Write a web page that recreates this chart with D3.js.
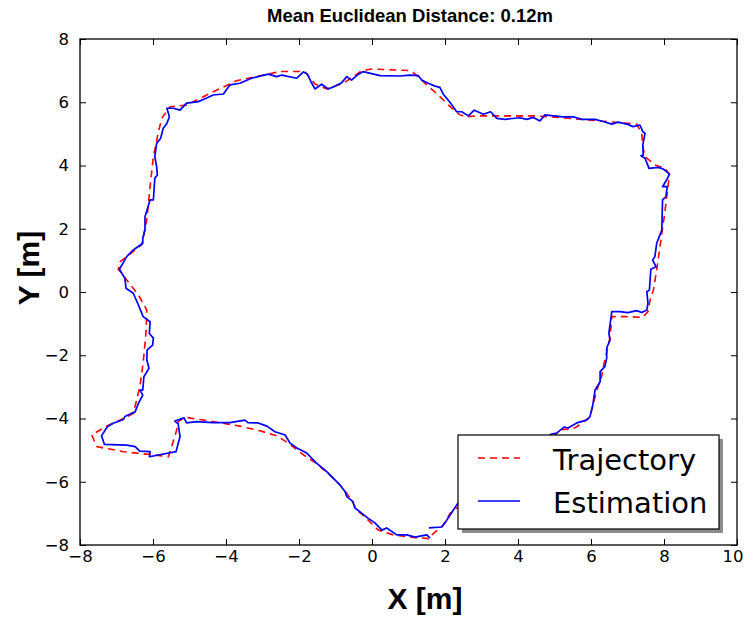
<!DOCTYPE html>
<html>
<head>
<meta charset="utf-8">
<script src="https://cdn.jsdelivr.net/npm/d3@7"></script>
<style>
  body { margin: 0; background: #fff; }
  svg { display: block; }
  .tick text { font-family: "DejaVu Sans", sans-serif; font-size: 16.5px; fill: #000; }
</style>
</head>
<body>
<svg width="744" height="617"></svg>
<script>
/* ground truth path (red dashed) */
var trajX = [1.64, 1.95, 2.14, 5.01, 5.24, 5.47, 5.61, 5.97, 6.16, 6.29, 6.33, 6.52, 6.57, 6.98, 7.42, 7.56, 7.62, 7.71, 7.80, 7.89,
  7.98, 8.03, 8.15, 8.03, 7.75, 7.48, 7.42, 7.39, 7.25, 4.88, 4.42, 3.51, 2.87, 2.59, 2.41, 2.14, 1.86, 1.50, 1.22, 1.04,
  0.68, -0.01, -0.28, -0.51, -0.79, -1.24, -1.42, -1.56, -1.70, -1.84, -2.52, -2.98, -3.71, -4.44, -5.08, -5.53, -5.76, -5.85, -5.99, -6.08,
  -6.17, -6.31, -6.90, -6.95, -6.58, -6.40, -6.17, -6.19, -6.27, -6.36, -6.54, -6.90, -7.22, -7.68, -7.54, -6.81, -5.99, -5.58, -5.49, -5.35,
  -5.31, -5.12, -4.62, -3.98, -3.62, -3.07, -2.61, -2.29, -1.88, -1.52, -1.06, -0.79, -0.56, -0.42, -0.15, 0.17, 0.58, 1.13, 1.50, 1.59];
var trajY = [-7.68, -7.37, -7.00, -4.52, -4.34, -4.34, -4.26, -3.95, -3.10, -2.68, -2.40, -1.45, -0.78, -0.78, -0.80, -0.62, -0.25, 0.06, 0.70, 1.43,
  2.17, 2.59, 3.73, 3.91, 4.02, 4.28, 4.59, 5.02, 5.31, 5.54, 5.57, 5.57, 5.57, 5.54, 5.60, 5.86, 6.18, 6.55, 6.86, 7.00,
  7.02, 7.05, 7.00, 6.81, 6.60, 6.42, 6.51, 6.58, 6.76, 6.97, 6.97, 6.86, 6.68, 6.28, 5.91, 5.86, 5.49, 5.07, 4.28, 3.33,
  2.28, 1.49, 0.96, 0.72, 0.17, -0.09, -0.57, -1.26, -2.25, -2.99, -3.84, -4.05, -4.21, -4.52, -4.89, -5.05, -5.15, -5.21, -4.89, -4.36,
  -4.10, -3.96, -4.05, -4.17, -4.24, -4.39, -4.55, -4.78, -5.15, -5.42, -5.89, -6.21, -6.58, -6.89, -7.16, -7.53, -7.68, -7.76, -7.79, -7.84];

/* estimated path (blue) */
var estX = [1.56, 1.91, 2.00, 2.14, 2.36, 4.92, 5.06, 5.26, 5.37, 5.61, 5.88, 5.97, 6.05, 6.11, 6.25, 6.25, 6.38, 6.43, 6.43, 6.52,
  6.49, 6.57, 6.79, 7.01, 7.25, 7.39, 7.53, 7.56, 7.53, 7.60, 7.64, 7.78, 7.69, 7.75, 7.80, 7.87, 7.94, 7.96, 8.05, 8.09,
  7.96, 8.07, 8.15, 7.98, 7.84, 7.59, 7.48, 7.37, 7.43, 7.42, 7.48, 7.42, 7.34, 7.15, 6.98, 6.74, 6.57, 6.33, 6.11, 5.75,
  5.51, 5.23, 4.74, 4.60, 4.42, 4.24, 4.05, 3.64, 3.42, 3.25, 3.05, 2.80, 2.64, 2.46, 2.32, 2.14, 1.95, 1.86, 1.73, 1.54,
  1.36, 1.27, 1.04, 0.77, 0.22, -0.24, -0.38, -0.56, -0.69, -0.83, -1.01, -1.20, -1.38, -1.56, -1.65, -1.77, -1.88, -2.06, -2.47, -2.61,
  -2.84, -3.30, -3.62, -3.89, -4.07, -4.35, -4.62, -4.76, -5.08, -5.26, -5.44, -5.62, -5.55, -5.62, -5.72, -5.79, -5.90, -5.95, -5.90, -5.88,
  -5.95, -5.99, -6.08, -6.11, -6.22, -6.22, -6.28, -6.28, -6.54, -6.72, -6.92, -6.77, -6.74, -6.54, -6.40, -6.27, -6.08, -6.10, -5.99, -6.01,
  -6.16, -6.17, -6.11, -6.25, -6.28, -6.36, -6.28, -6.40, -6.49, -6.63, -6.77, -6.81, -7.09, -7.25, -7.41, -7.33, -6.72, -6.49, -6.36, -6.08,
  -6.10, -5.37, -5.26, -5.31, -5.40, -5.15, -5.08, -4.80, -4.36, -3.89, -3.48, -3.40, -3.12, -2.88, -2.66, -2.38, -2.25, -2.06, -1.79, -1.52,
  -1.24, -0.88, -0.74, -0.69, -0.52, -0.47, -0.33, -0.11, 0.08, 0.27, 0.40, 0.68, 0.95, 1.18, 1.50, 1.59];
var estY = [-7.46, -7.43, -7.30, -7.05, -6.67, -4.49, -4.46, -4.27, -4.30, -4.14, -4.05, -3.95, -3.57, -3.10, -2.84, -2.52, -2.36, -2.09, -1.77, -1.52,
  -1.30, -0.62, -0.62, -0.65, -0.59, -0.65, -0.57, -0.35, 0.01, 0.06, 0.72, 0.80, 1.01, 1.12, 1.54, 1.75, 1.96, 2.91, 3.01, 3.33,
  3.33, 3.54, 3.73, 3.89, 3.94, 3.91, 4.23, 4.31, 4.33, 4.65, 5.02, 5.07, 5.28, 5.23, 5.31, 5.37, 5.31, 5.39, 5.46, 5.46,
  5.54, 5.54, 5.60, 5.41, 5.52, 5.46, 5.51, 5.46, 5.49, 5.70, 5.62, 5.75, 5.57, 5.70, 5.70, 5.99, 6.26, 6.47, 6.51, 6.60,
  6.70, 6.84, 6.86, 6.83, 6.84, 6.97, 6.88, 6.70, 6.81, 6.62, 6.51, 6.42, 6.57, 6.42, 6.60, 6.89, 6.96, 6.76, 6.86, 6.81,
  6.89, 6.76, 6.60, 6.55, 6.26, 6.23, 6.09, 6.02, 5.97, 5.75, 5.81, 5.81, 5.54, 5.33, 5.18, 4.86, 4.70, 4.28, 3.96, 3.70,
  3.60, 2.91, 2.91, 2.80, 2.38, 1.96, 1.70, 1.54, 1.33, 1.12, 0.72, 0.43, 0.12, -0.04, -0.41, -0.78, -0.94, -1.31, -1.46, -1.68,
  -1.83, -2.15, -2.41, -2.68, -3.10, -3.10, -3.26, -3.52, -3.79, -3.86, -3.94, -4.03, -4.15, -4.26, -4.55, -4.82, -4.84, -4.89, -5.03, -5.05,
  -5.21, -5.05, -4.58, -4.17, -4.08, -3.98, -4.14, -4.10, -4.13, -4.13, -4.05, -4.13, -4.14, -4.24, -4.42, -4.52, -4.77, -4.93, -5.09, -5.41,
  -5.68, -6.10, -6.31, -6.47, -6.63, -6.83, -6.95, -7.15, -7.30, -7.53, -7.46, -7.68, -7.68, -7.75, -7.68, -7.78];

var xTicks = [-8, -6, -4, -2, 0, 2, 4, 6, 8, 10];
var yTicks = [-8, -6, -4, -2, 0, 2, 4, 6, 8];
var seriesNames = ["Trajectory", "Estimation"];
var titleText = "Mean Euclidean Distance: 0.12m";

var svg = d3.select("svg"),
    margin = {top: 39, right: 7, bottom: 72, left: 80},
    width = +svg.attr("width") - margin.left - margin.right,
    height = +svg.attr("height") - margin.top - margin.bottom,
    g = svg.append("g").attr("transform", "translate(" + margin.left + "," + margin.top + ")");

var x = d3.scaleLinear().domain([-8, 10]).range([0, width]);
var y = d3.scaleLinear().domain([-8, 8]).range([height, 0]);

var fmt = function(d) { return d < 0 ? "\u2212" + Math.abs(d) : "" + d; };

/* clip so the lines stay inside the frame */
svg.append("defs").append("clipPath").attr("id", "clip")
  .append("rect").attr("width", width).attr("height", height);

var line = d3.line()
    .x(function(d) { return x(d[0]); })
    .y(function(d) { return y(d[1]); });

var traj = trajX.map(function(v, i) { return [v, trajY[i]]; });
var est = estX.map(function(v, i) { return [v, estY[i]]; });

var plot = g.append("g").attr("clip-path", "url(#clip)");

plot.append("path")
    .datum(traj)
    .attr("fill", "none")
    .attr("stroke", "#ff0000")
    .attr("stroke-width", 1.6)
    .attr("stroke-dasharray", "7,5")
    .attr("d", line);

plot.append("path")
    .datum(est)
    .attr("fill", "none")
    .attr("stroke", "#0000ff")
    .attr("stroke-width", 1.7)
    .attr("stroke-linejoin", "round")
    .attr("d", line);

/* axes: ticks inward, on all four sides */
var axB = g.append("g").attr("transform", "translate(0," + height + ")")
    .call(d3.axisBottom(x).tickValues(xTicks).tickSizeInner(-6).tickSizeOuter(0).tickPadding(5).tickFormat(fmt));
var axL = g.append("g")
    .call(d3.axisLeft(y).tickValues(yTicks).tickSizeInner(-6).tickSizeOuter(0).tickPadding(11).tickFormat(fmt));
var axT = g.append("g")
    .call(d3.axisTop(x).tickValues(xTicks).tickSizeInner(-6).tickSizeOuter(0).tickFormat(""));
var axR = g.append("g").attr("transform", "translate(" + width + ",0)")
    .call(d3.axisRight(y).tickValues(yTicks).tickSizeInner(-6).tickSizeOuter(0).tickFormat(""));

[axB, axL, axT, axR].forEach(function(a) {
  a.select(".domain").remove();
  a.selectAll(".tick line").attr("stroke", "#000").attr("stroke-width", 1);
});
axB.selectAll(".tick text").attr("dy", "0.71em");
// last label sits on the page edge, keep it inside
axB.selectAll(".tick text").filter(function(d) { return d === 10; })
    .attr("text-anchor", "end").attr("x", 6);

g.append("rect")
    .attr("width", width)
    .attr("height", height)
    .attr("fill", "none")
    .attr("stroke", "#000")
    .attr("stroke-width", 1.3);

/* title and axis labels */
svg.append("text")
    .attr("x", 410)
    .attr("y", 22)
    .attr("text-anchor", "middle")
    .style("font-family", "'Liberation Sans', Arial, sans-serif")
    .style("font-weight", "bold")
    .style("font-size", "18.5px")
    .text(titleText);

svg.append("text")
    .attr("x", 425)
    .attr("y", 609)
    .attr("text-anchor", "middle")
    .style("font-family", "'Liberation Sans', Arial, sans-serif")
    .style("font-weight", "bold")
    .style("font-size", "30px")
    .text("X [m]");

svg.append("text")
    .attr("transform", "translate(39,268) rotate(-90)")
    .attr("text-anchor", "middle")
    .style("font-family", "'Liberation Sans', Arial, sans-serif")
    .style("font-weight", "bold")
    .style("font-size", "30px")
    .text("Y [m]");

/* legend, lower right with a drop shadow */
var lg = g.append("g").attr("transform", "translate(" + (width - 279) + "," + (height - 110) + ")");
lg.append("rect")
    .attr("x", 4).attr("y", 4)
    .attr("width", 261).attr("height", 94)
    .attr("fill", "#8c8c8c");
lg.append("rect")
    .attr("width", 261).attr("height", 94)
    .attr("fill", "#fff")
    .attr("stroke", "#000")
    .attr("stroke-width", 1.2);

var styles = [
  {stroke: "#ff0000", dash: "7,5", w: 1.6},
  {stroke: "#0000ff", dash: null, w: 1.7}
];
seriesNames.forEach(function(name, i) {
  var yy = 23 + i * 43;
  lg.append("line")
      .attr("x1", 20).attr("x2", 62)
      .attr("y1", yy).attr("y2", yy)
      .attr("stroke", styles[i].stroke)
      .attr("stroke-width", styles[i].w)
      .attr("stroke-dasharray", styles[i].dash);
  lg.append("text")
      .attr("x", 95)
      .attr("y", yy + 12)
      .style("font-family", "'DejaVu Sans', sans-serif")
      .style("font-size", "29px")
      .text(name);
});
</script>
</body>
</html>
